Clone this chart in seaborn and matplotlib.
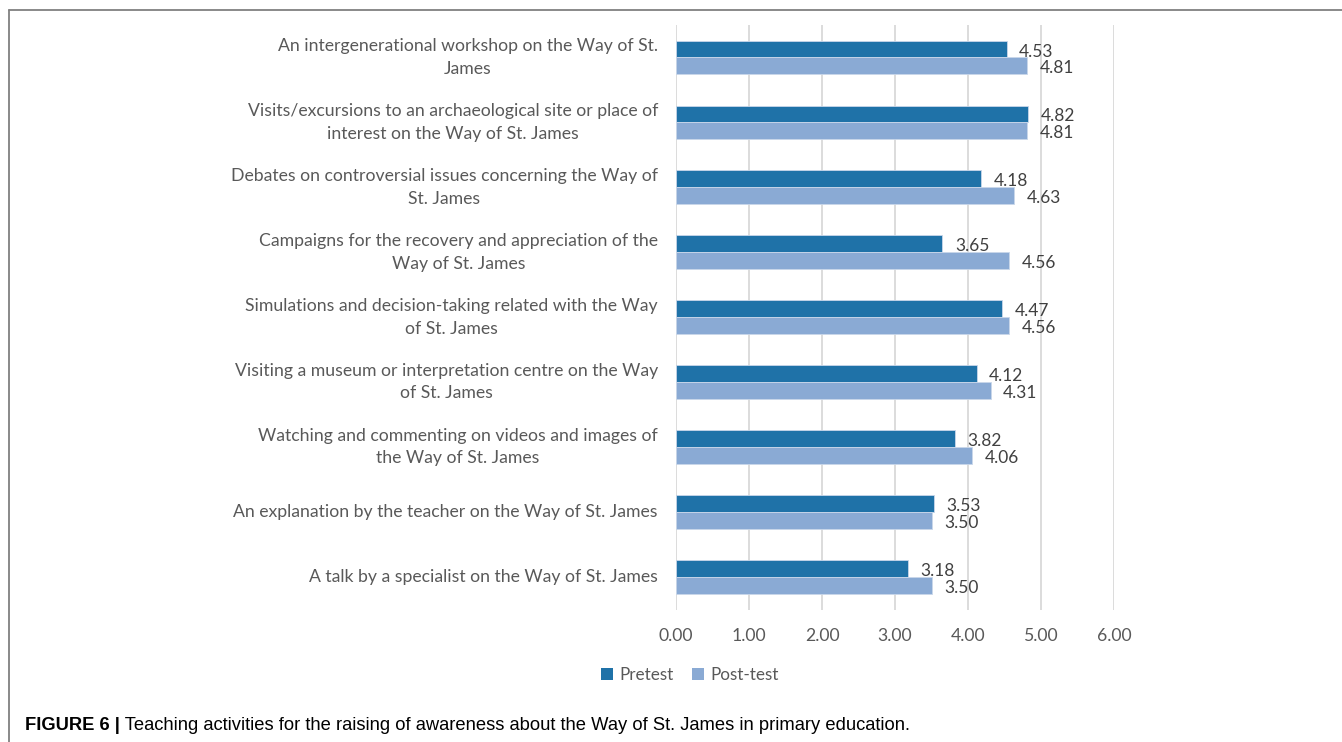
import matplotlib
matplotlib.use("Agg")
import matplotlib.pyplot as plt
from matplotlib.lines import Line2D
from matplotlib.patches import Patch
import seaborn as sns
import pandas as pd

activities = [
    "An intergenerational workshop on the Way of St.\nJames",
    "Visits/excursions to an archaeological site or place of\ninterest on the Way of St. James",
    "Debates on controversial issues concerning the Way of\nSt. James",
    "Campaigns for the recovery and appreciation of the\nWay of St. James",
    "Simulations and decision-taking related with the Way\nof St. James",
    "Visiting a museum or interpretation centre on the Way\nof St. James",
    "Watching and commenting on videos and images of\nthe Way of St. James",
    "An explanation by the teacher on the Way of St. James",
    "A talk by a specialist on the Way of St. James",
]
pretest = [4.53, 4.82, 4.18, 3.65, 4.47, 4.12, 3.82, 3.53, 3.18]
posttest = [4.81, 4.81, 4.63, 4.56, 4.56, 4.31, 4.06, 3.50, 3.50]
series_names = ["Pretest", "Post-test"]
x_ticks = [0, 1, 2, 3, 4, 5, 6]
caption_bold = "FIGURE 6 |"
caption_text = " Teaching activities for the raising of awareness about the Way of St. James in primary education."

colors = {"Pretest": "#1f72a8", "Post-test": "#8aaad4"}
label_font = "Lato"

df = pd.DataFrame({
    "activity": activities * 2,
    "score": pretest + posttest,
    "test": [series_names[0]] * len(activities) + [series_names[1]] * len(activities),
})

sns.set_theme(style="white")
plt.rcParams["font.family"] = [label_font, "DejaVu Sans"]

fig = plt.figure(figsize=(13.42, 7.42), dpi=100)
ax = fig.add_axes([676 / 1342, 1 - 609.5 / 742, (1114 - 676) / 1342, (609.5 - 25) / 742])

sns.barplot(data=df, x="score", y="activity", hue="test", order=activities,
            hue_order=series_names, palette=colors, width=0.52, orient="h",
            errorbar=None, ax=ax, legend=False, saturation=1, linewidth=0.6,
            edgecolor="#c9d7ea")

# value labels, set slightly below the bar centre
for container in ax.containers:
    texts = ax.bar_label(container, labels=[f"{v:.2f}" for v in container.datavalues],
                         padding=9, fontsize=12.5, color="#404040", family=label_font)
    for t in texts:
        t.xyann = (t.xyann[0], t.xyann[1] - 1.8)

ax.set_xlim(0, 6)
ax.set_ylim(len(activities) - 0.5, -0.5)
ax.set_xticks(x_ticks)
ax.set_xticklabels([f"{t:.2f}" for t in x_ticks])
ax.set_xlabel("")
ax.set_ylabel("")
for s in ax.spines.values():
    s.set_visible(False)
ax.grid(axis="x", color="#d9d9d9", linewidth=1.3)
ax.grid(axis="y", visible=False)
ax.set_axisbelow(True)
ax.tick_params(axis="x", length=0, pad=13, labelsize=12.7, labelcolor="#595959")
ax.tick_params(axis="y", length=0, pad=13, labelsize=12.7, labelcolor="#595959")
for lbl in ax.get_yticklabels():
    lbl.set_multialignment("center")
    lbl.set_linespacing(1.5)
    lbl.set_verticalalignment("center")

handles = [Patch(facecolor=colors[n], edgecolor="none", label=n) for n in series_names]
fig.legend(handles=handles, loc="center", bbox_to_anchor=(690 / 1342, 1 - 675 / 742),
           ncol=2, frameon=False, fontsize=12.3, handlelength=0.7, handleheight=0.7,
           handletextpad=0.35, columnspacing=1.1, labelcolor="#595959")

# Figure frame (top and left rules)
fig.add_artist(Line2D([9 / 1342, 1], [1 - 10 / 742, 1 - 10 / 742], color="#808080", lw=1.3,
                      transform=fig.transFigure))
fig.add_artist(Line2D([9 / 1342, 9 / 1342], [0, 1 - 10 / 742], color="#808080", lw=1.3,
                      transform=fig.transFigure))

# Caption: bold figure number followed by regular text
cap_y = 1 - 726 / 742
t1 = fig.text(25 / 1342, cap_y, caption_bold, fontsize=13.2, fontweight="bold",
              family="Liberation Sans", color="#000000", va="center")
fig.canvas.draw()
bb = t1.get_window_extent(renderer=fig.canvas.get_renderer())
fig.text(bb.x1 / fig.bbox.width, cap_y, caption_text, fontsize=13.2,
         family="Liberation Sans", color="#000000", va="center")

fig.savefig("out.png", dpi=100)
